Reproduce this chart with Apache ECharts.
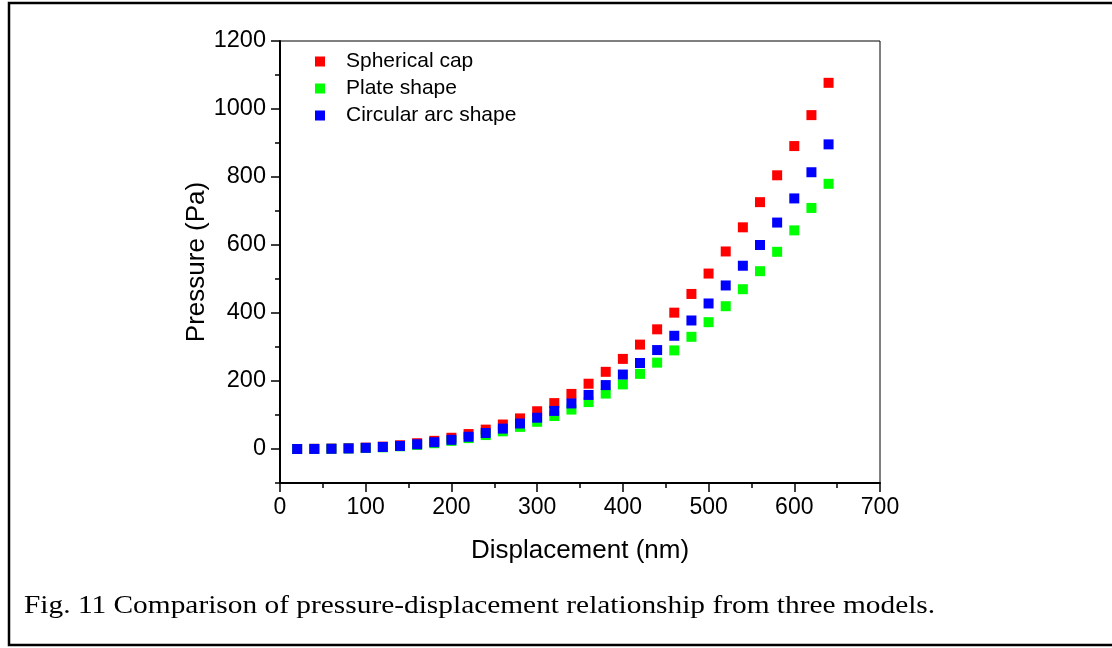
<!DOCTYPE html>
<html><head><meta charset="utf-8">
<script src="https://cdn.jsdelivr.net/npm/echarts@6/dist/echarts.min.js"></script>
<style>html,body{margin:0;padding:0;background:#fff}#c{width:1112px;height:648px}</style>
</head><body><div id="c"></div>
<script>
const displacement = [20,40,60,80,100,120,140,160,180,200,220,240,260,280,300,320,340,360,380,400,420,440,460,480,500,520,540,560,580,600,620,640];
const sphericalCap = [0,0.5,1,2.5,4,7,11,17,24,33,44,57,72,90,111,135,162,192,227,265,307,352,401,456,516,581,652,726,805,891,982,1077];
const plateShape   = [0,0.2,0.6,1.5,3,5,8,12,17,24,32,41,52,65,80,97,116,138,163,190,221,254,290,330,373,420,470,523,580,643,709,780];
const circularArc  = [0,0.2,0.7,1.7,3.4,6,9,14,20,27,36,47,60,75,92,112,134,159,188,219,253,291,333,378,428,481,539,600,666,737,814,896];
const seriesNames = ['Spherical cap','Plate shape','Circular arc shape'];
const seriesColors = ['#ff0000','#00ff00','#0000ff'];
const yTickValues = [0,200,400,600,800,1000,1200];
const yMinorTickValues = [-100,100,300,500,700,900,1100];
const xAxisName = 'Displacement (nm)';
const yAxisName = 'Pressure (Pa)';
const caption = 'Fig. 11 Comparison of pressure-displacement relationship from three models.';

const sans = '"Liberation Sans", Arial, sans-serif';
const serif = '"Liberation Serif", "Times New Roman", serif';
const chart = echarts.init(document.getElementById('c'), null, {renderer:'canvas'});
const allValues = [sphericalCap, plateShape, circularArc];

chart.setOption({
  animation:false,
  backgroundColor:'#fff',
  grid:{left:280, right:232, top:41, bottom:165, show:true, borderColor:'#000', borderWidth:1, backgroundColor:'transparent'},
  legend:{
    orient:'vertical', left:315, top:51, padding:0, itemWidth:10, itemHeight:10, itemGap:6,
    icon:'rect',
    textStyle:{fontFamily:sans, fontSize:21, color:'#000', padding:[0,0,0,16]},
    data:seriesNames
  },
  xAxis:{
    type:'value', min:0, max:700, interval:100,
    name:xAxisName, nameLocation:'middle', nameGap:55, nameMoveOverlap:false,
    nameTextStyle:{fontFamily:sans, fontSize:26, color:'#000'},
    axisLine:{show:true, onZero:false, lineStyle:{color:'#000', width:2}},
    axisTick:{show:true, length:9, lineStyle:{color:'#000', width:1.5}},
    minorTick:{show:true, splitNumber:2, length:5, lineStyle:{color:'#000', width:1.5}},
    axisLabel:{fontFamily:sans, fontSize:23, color:'#000', margin:13, formatter:v=>String(v)},
    splitLine:{show:false}
  },
  yAxis:[{
    type:'value', min:-100, max:1200,
    name:yAxisName, nameLocation:'middle', nameGap:70, nameMoveOverlap:false,
    nameTextStyle:{fontFamily:sans, fontSize:26, color:'#000'},
    axisLine:{show:true, onZero:false, lineStyle:{color:'#000', width:2}},
    axisTick:{show:true, length:9, customValues:yTickValues, lineStyle:{color:'#000', width:1.5}},
    axisLabel:{fontFamily:sans, fontSize:23.5, color:'#000', margin:14, customValues:yTickValues, formatter:v=>String(v)},
    splitLine:{show:false}
  },{
    type:'value', min:-100, max:1200, position:'left',
    axisLine:{show:false},
    axisTick:{show:true, length:5, customValues:yMinorTickValues, lineStyle:{color:'#000', width:1.5}},
    axisLabel:{show:false},
    splitLine:{show:false}
  }],
  series: seriesNames.map((n,k)=>({
    name:n, type:'scatter', symbol:'rect', symbolSize:10, yAxisIndex:0,
    itemStyle:{color:seriesColors[k], opacity:1},
    data: displacement.map((d,i)=>[d, allValues[k][i]])
  })),
  graphic:[
    {type:'polyline', shape:{points:[[1120,3],[9,3],[9,645],[1120,645]]}, style:{stroke:'#000', lineWidth:2.5, fill:null}, silent:true},
    {type:'text', x:24, y:606, scaleX:1.13, style:{text:caption, fontFamily:serif, fontSize:26, fill:'#000', verticalAlign:'middle', align:'left'}}
  ]
});
</script>
</body></html>
